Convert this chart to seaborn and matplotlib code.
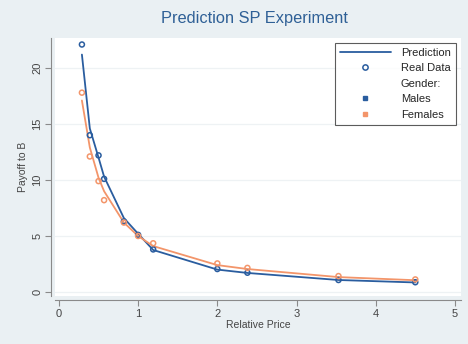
import matplotlib
matplotlib.use("Agg")
import matplotlib.pyplot as plt
from matplotlib.lines import Line2D
import seaborn as sns
import pandas as pd

# Relative prices used in the experiment
price = [0.29, 0.39, 0.50, 0.57, 0.82, 1.00, 1.19, 2.00, 2.38, 3.53, 4.50]

# Observed payoffs to B
real_males = [22.1, 14.0, 12.2, 10.1, 6.3, 5.1, 3.8, 2.05, 1.72, 1.07, 0.87]
real_females = [17.8, 12.1, 9.9, 8.2, 6.2, 5.0, 4.35, 2.55, 2.15, 1.42, 1.12]

# Model predictions
pred_males = [21.2, 14.6, 12.0, 10.3, 6.6, 5.2, 3.75, 2.0, 1.7, 1.07, 0.85]
pred_females = [17.1, 12.9, 10.2, 9.0, 6.2, 5.0, 4.1, 2.4, 2.05, 1.33, 1.05]

genders = ["Males", "Females"]
palette = {"Males": "#2a5d9f", "Females": "#f3956a"}

real = pd.DataFrame({
    "price": price * 2,
    "payoff": real_males + real_females,
    "gender": ["Males"] * len(price) + ["Females"] * len(price),
})
pred = pd.DataFrame({
    "price": price * 2,
    "payoff": pred_males + pred_females,
    "gender": ["Males"] * len(price) + ["Females"] * len(price),
})

sns.set_theme(style="white")
plt.rcParams["font.family"] = ["Liberation Sans", "DejaVu Sans"]

bg = "#eaf0f3"
fig = plt.figure(figsize=(4.68, 3.44), dpi=100, facecolor=bg)
ax = fig.add_axes([0.1175, 0.1395, 0.868, 0.75])
ax.set_facecolor("white")

# faint horizontal grid at the y ticks
for yv in [0, 5, 10, 15, 20]:
    ax.axhline(yv, color="#eef2f4", lw=0.9, zorder=0)

sns.lineplot(data=pred, x="price", y="payoff", hue="gender",
             hue_order=genders, palette=palette, lw=1.3,
             legend=False, ax=ax, zorder=2)

for g in ["Males", "Females"]:
    sub = real[real["gender"] == g]
    sns.scatterplot(data=sub, x="price", y="payoff", ax=ax, s=13,
                    marker="o", color=palette[g], legend=False, zorder=3)
    coll = ax.collections[-1]
    coll.set_edgecolor(palette[g])
    coll.set_facecolor("none")
    coll.set_linewidth(1.1)

ax.set_xlim(-0.05, 5.08)
ax.set_ylim(-0.36, 22.68)
ax.set_xticks([0, 1, 2, 3, 4, 5])
ax.set_yticks([0, 5, 10, 15, 20])

for side in ["top", "right"]:
    ax.spines[side].set_visible(False)
for side in ["left", "bottom"]:
    ax.spines[side].set_position(("outward", 3))
    ax.spines[side].set_color("#8a8a8a")
    ax.spines[side].set_linewidth(0.8)

ax.tick_params(axis="both", which="major", length=4, width=0.8,
               color="#8a8a8a", labelsize=8, labelcolor="#444444",
               direction="out", bottom=True, left=True, pad=2)
for lab in ax.get_yticklabels():
    lab.set_rotation(90)
    lab.set_va("center")

ax.set_xlabel("Relative Price", fontsize=7.5, color="#444444", labelpad=1)
ax.set_ylabel("Payoff to B", fontsize=7.5, color="#444444", labelpad=3)

fig.text(0.543, 0.945, "Prediction SP Experiment", ha="center", va="center",
         fontsize=11.8, color="#2f6096")

handles = [
    Line2D([], [], color=palette["Males"], lw=1.3),
    Line2D([], [], ls="none", marker="o", markersize=3.8,
           markerfacecolor="none", markeredgecolor=palette["Males"],
           markeredgewidth=1.1),
    Line2D([], [], ls="none"),
    Line2D([], [], ls="none", marker="s", markersize=3.2,
           color=palette["Males"]),
    Line2D([], [], ls="none", marker="s", markersize=3.2,
           color=palette["Females"]),
]
labels = ["Prediction", "Real Data", "Gender:", "Males", "Females"]
leg = ax.legend(handles, labels, loc="upper right",
                bbox_to_anchor=(0.995, 0.995), fontsize=8, frameon=True,
                fancybox=False, edgecolor="#333333", handlelength=4.6,
                labelspacing=0.5, borderpad=0.45, handletextpad=0.9,
                borderaxespad=0.3)
leg.get_frame().set_linewidth(0.8)

fig.savefig("out.png", dpi=100, facecolor=bg)
